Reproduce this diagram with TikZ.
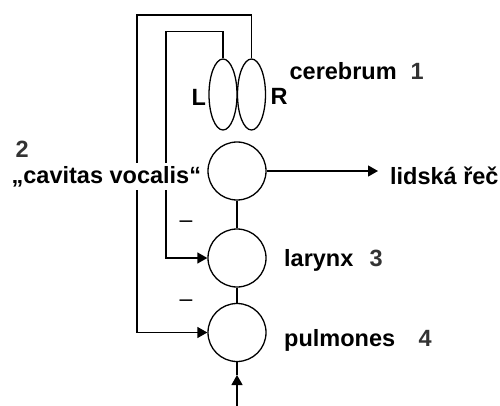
\documentclass[tikz,border=0pt]{standalone}
\usepackage{fontspec}
\setmainfont{Liberation Sans}
\usetikzlibrary{shapes.geometric,arrows.meta}
\definecolor{numgray}{HTML}{333333}
\tikzset{
  organ/.style={circle, draw, line width=1.3pt, minimum size=58pt, inner sep=0pt},
  lobe/.style={ellipse, draw, line width=1.3pt, minimum width=28pt, minimum height=71pt, inner sep=0pt},
  lbl/.style={font=\fontsize{23.5}{27}\selectfont\bfseries, inner sep=0pt, anchor=base west},
  num/.style={lbl, text=numgray},
  arr/.style={line width=1.3pt, -{Triangle[length=10pt,width=11pt]}}
}
\begin{document}
\begin{tikzpicture}[x=1pt, y=-1pt, line width=1.3pt]
        \useasboundingbox (0,0) rectangle (500,406);
        % Hemisferios
        \node[lobe] (lft) at (223,94.5) {};
        \node[lobe] (rgt) at (251.5,94.5) {};
        
        % Organos
        \foreach \n/\y in {cav/171, lar/258, pul/332.5} {
            \node[organ] (\n) at (237,\y) {};
        }
        \draw (cav.south) -- (lar.north);
        \draw (lar.south) -- (pul.north);
        
        % Retroalimentacion
        \coordinate (outer) at (137,15);
        \coordinate (inner) at (166,31.7);
        \draw[arr] (rgt.north) |- (outer) |- (pul.west);
        \draw[arr] (lft.north) |- (inner) |- (lar.west);
        \foreach \y in {227, 306} {
            \node[font=\fontsize{23}{27}\selectfont, inner sep=0pt, anchor=base] at (186,\y) {–};
        }
        
        % Textos
        \node[lbl] (hl) at (191,106) {L};
        \node[lbl] (hr) at (270,105) {R};
        \node[lbl] (ceb) at (289,80) {cerebrum};
        \node[num] (n1) at (410,80) {1};
        \node[num] (n2) at (15,158) {2};
        \node[lbl, fill=white, inner ysep=3pt] (cavt) at (11,183) {„cavitas vocalis“};
        \node[lbl] (speech) at (389.5,185) {lidská řeč};
        \node[lbl] (lart) at (283.5,266) {larynx};
        \node[num] (n3) at (369,266) {3};
        \node[lbl] (pult) at (283.5,346) {pulmones};
        \node[num] (n4) at (418,346.5) {4};
        
        % Salida
        \draw[arr, shorten >=11.5pt] (cav.east) -- (cav.east -| speech.west);
        
        % Aire
        \coordinate (src) at (237,406);
        \coordinate (tip) at (237,375);
        \draw[arr] (src) -- (tip);
        \draw (tip) -- (pul.south);
    \end{tikzpicture}
\end{document}
